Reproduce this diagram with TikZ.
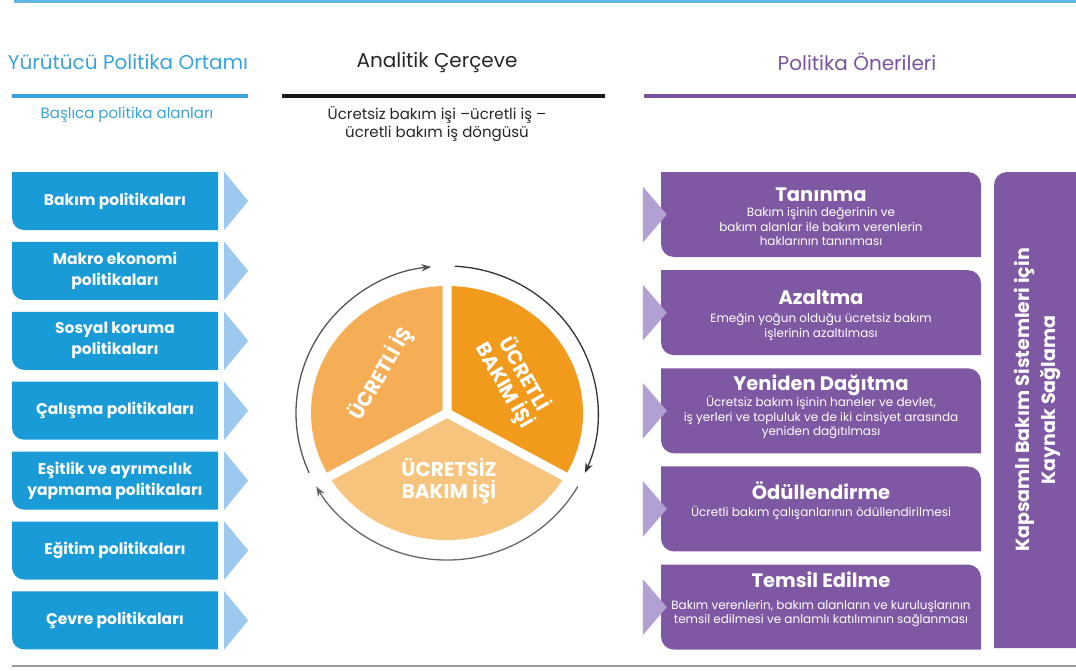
\documentclass[tikz,border=0pt]{standalone}
\usepackage{fontspec}
\setmainfont{Poppins}
\usetikzlibrary{positioning, arrows.meta}

\definecolor{policyblue}{RGB}{24,155,215}
\definecolor{tipblue}{RGB}{158,201,238}
\definecolor{headblue}{RGB}{58,163,218}
\definecolor{propviolet}{RGB}{127,88,164}
\definecolor{tipviolet}{RGB}{178,160,210}
\definecolor{headviolet}{RGB}{123,82,160}
\definecolor{paidwork}{RGB}{245,174,85}
\definecolor{paidcare}{RGB}{242,154,27}
\definecolor{unpaidcare}{RGB}{247,196,126}
\definecolor{ringgray}{RGB}{85,85,85}

\begin{document}
\begin{tikzpicture}[x=1pt, y=1pt, node distance=11.5pt,
	head/.style={font=\fontsize{20}{24}\selectfont},
	subhead/.style={font=\fontsize{15}{18}\selectfont, align=center},
	rule/.style={line width=3.5pt},
	policy/.style={minimum width=206pt, minimum height=58pt, inner sep=0pt, fill=white,
		align=center, text=white, font=\bfseries\fontsize{15.5}{21}\selectfont,
		path picture={\fill[policyblue] (path picture bounding box.north west)
			-- (path picture bounding box.north east) -- (path picture bounding box.south east)
			-- ([xshift=12pt]path picture bounding box.south west)
			arc[start angle=270, end angle=180, radius=12pt] -- cycle;}},
	proposal/.style={minimum width=320pt, minimum height=85pt, inner sep=0pt, fill=white,
		path picture={\fill[propviolet] (path picture bounding box.north west)
			-- ([xshift=-13pt]path picture bounding box.north east)
			arc[start angle=90, end angle=0, radius=13pt]
			-- (path picture bounding box.south east)
			-- ([xshift=13pt]path picture bounding box.south west)
			arc[start angle=270, end angle=180, radius=13pt] -- cycle;}},
	fundbox/.style={minimum width=82pt, minimum height=476pt, inner sep=0pt, fill=white,
		path picture={\fill[propviolet] (path picture bounding box.north east)
			-- (path picture bounding box.south east) -- (path picture bounding box.south west)
			-- ([yshift=-13pt]path picture bounding box.north west)
			arc[start angle=180, end angle=90, radius=13pt] -- cycle;}},
	proptitle/.style={text=white, font=\bfseries\fontsize{19.5}{22}\selectfont},
	propdesc/.style={text=white, align=center, font=\fontsize{12}{14.5}\selectfont},
	fundtext/.style={text=white, align=center, font=\bfseries\fontsize{19}{26}\selectfont},
	slice/.style={text=white, align=center, font=\bfseries\fontsize{20}{22.5}\selectfont},
	cycle/.style={draw=ringgray, line width=1.3pt, -{Stealth[length=10pt, width=7.5pt]}}]

	\useasboundingbox (0,0) rectangle (1076,-670);
	\draw[line width=3pt, draw=headblue!80] (14,-1.5) -- (1076,-1.5);
	\draw[line width=1.5pt, draw=black!40] (12,-666) -- (1076,-666);

	% column heads
	\node[head, text=headblue] (envhead) at (128,-62) {Yürütücü Politika Ortamı};
	\draw[rule, draw=headblue] (12,-96) -- (248,-96);
	\node[subhead, text=headblue] (envsub) at (127,-115) {Başlıca politika alanları};

	\node[head, text=black!85] (framehead) at (437,-62) {Analitik Çerçeve};
	\draw[rule, draw=black!90] (282,-96) -- (605,-96);
	\node[subhead, text=black!85] (framesub) at (437,-124) {Ücretsiz bakım işi –ücretli iş –\\ücretli bakım iş döngüsü};

	\node[head, text=headviolet] (prophead) at (857,-62) {Politika Önerileri};
	\draw[rule, draw=headviolet] (644,-96) -- (1076,-96);

	% policy areas
	\node[policy] (bakim) at (115,-201) {Bakım politikaları};
	\node[policy] (makro) [below=of bakim] {Makro ekonomi\\politikaları};
	\node[policy] (sosyal) [below=of makro] {Sosyal koruma\\politikaları};
	\node[policy] (calisma) [below=of sosyal] {Çalışma politikaları};
	\node[policy] (esitlik) [below=of calisma] {Eşitlik ve ayrımcılık\\yapmama politikaları};
	\node[policy] (egitim) [below=of esitlik] {Eğitim politikaları};
	\node[policy] (cevre) [below=of egitim] {Çevre politikaları};

	\foreach \n in {bakim, makro, sosyal, calisma, esitlik, egitim, cevre}
		\fill[tipblue] ([xshift=6pt]\n.north east) -- ([xshift=30pt]\n.east) -- ([xshift=6pt]\n.south east) -- cycle;

	% care cycle
	\coordinate (hub) at (447,-413);
	\begin{scope}[shift={(hub)}, yscale=0.934]
		\fill[paidwork] (0,0) -- (90:136) arc[start angle=90, end angle=210, radius=136] -- cycle;
		\fill[paidcare] (0,0) -- (-30:136) arc[start angle=-30, end angle=90, radius=136] -- cycle;
		\fill[unpaidcare] (0,0) -- (210:136) arc[start angle=210, end angle=330, radius=136] -- cycle;
		\draw[white, line width=9pt] (0,0) -- (90:142) (0,0) -- (210:142) (0,0) -- (330:142);
	\end{scope}
	\node[slice, rotate=60] (paidlbl) at (381,-374) {ÜCRETLİ İŞ};
	\node[slice, rotate=-60] (carelbl) at (514,-380) {ÜCRETLİ\\BAKIM İŞİ};
	\node[slice] (unpaidlbl) at (449,-481) {ÜCRETSİZ\\BAKIM İŞİ};

	\draw[cycle] ([shift={(204:151 and 147)}]hub) arc[start angle=204, end angle=96, x radius=151, y radius=147];
	\draw[cycle, draw=black!80] ([shift={(87:151 and 147)}]hub) arc[start angle=87, end angle=-24, x radius=151, y radius=147];
	\draw[cycle, draw=black!60] ([shift={(-30:151 and 147)}]hub) arc[start angle=-30, end angle=-150, x radius=151, y radius=147];

	% proposals
	\node[proposal] (tanima) at (821,-214.5) {};
	\node[proposal] (azaltma) [below=12.75pt of tanima] {};
	\node[proposal] (dagitma) [below=12.75pt of azaltma] {};
	\node[proposal] (odul) [below=12.75pt of dagitma] {};
	\node[proposal] (temsil) [below=12.75pt of odul] {};

	\foreach \n in {tanima, azaltma, dagitma, odul, temsil}
		\fill[tipviolet] ([shift={(-18pt,28pt)}]\n.west) -- ([xshift=6pt]\n.west) -- ([shift={(-18pt,-28pt)}]\n.west) -- cycle;

	\node[proptitle] (tanimat) at ([yshift=-23pt]tanima.north) {Tanınma};
	\node[propdesc] (tanimad) at ([yshift=-55pt]tanima.north) {Bakım işinin değerinin ve\\bakım alanlar ile bakım verenlerin\\haklarının tanınması};
	\node[proptitle] (azaltmat) at ([yshift=-27pt]azaltma.north) {Azaltma};
	\node[propdesc] (azaltmad) at ([yshift=-57pt]azaltma.north) {Emeğin yoğun olduğu ücretsiz bakım\\işlerinin azaltılması};
	\node[proptitle] (dagitmat) at ([yshift=-17pt]dagitma.north) {Yeniden Dağıtma};
	\node[propdesc] (dagitmad) at ([yshift=-49.5pt]dagitma.north) {Ücretsiz bakım işinin haneler ve devlet,\\iş yerleri ve topluluk ve de iki cinsiyet arasında\\yeniden dağıtılması};
	\node[proptitle] (odult) at ([yshift=-24pt]odul.north) {Ödüllendirme};
	\node[propdesc] (oduld) at ([yshift=-46.5pt]odul.north) {Ücretli bakım çalışanlarının ödüllendirilmesi};
	\node[proptitle] (temsilt) at ([yshift=-15pt]temsil.north) {Temsil Edilme};
	\node[propdesc] (temsild) at ([yshift=-49pt]temsil.north) {Bakım verenlerin, bakım alanların ve kuruluşlarının\\temsil edilmesi ve anlamlı katılımının sağlanması};

	\node[fundbox] (fund) at (1035,-410) {};
	\node[fundtext, rotate=90] (fundlbl) at (1037,-400) {Kapsamlı Bakım Sistemleri için\\Kaynak Sağlama};
\end{tikzpicture}
\end{document}
